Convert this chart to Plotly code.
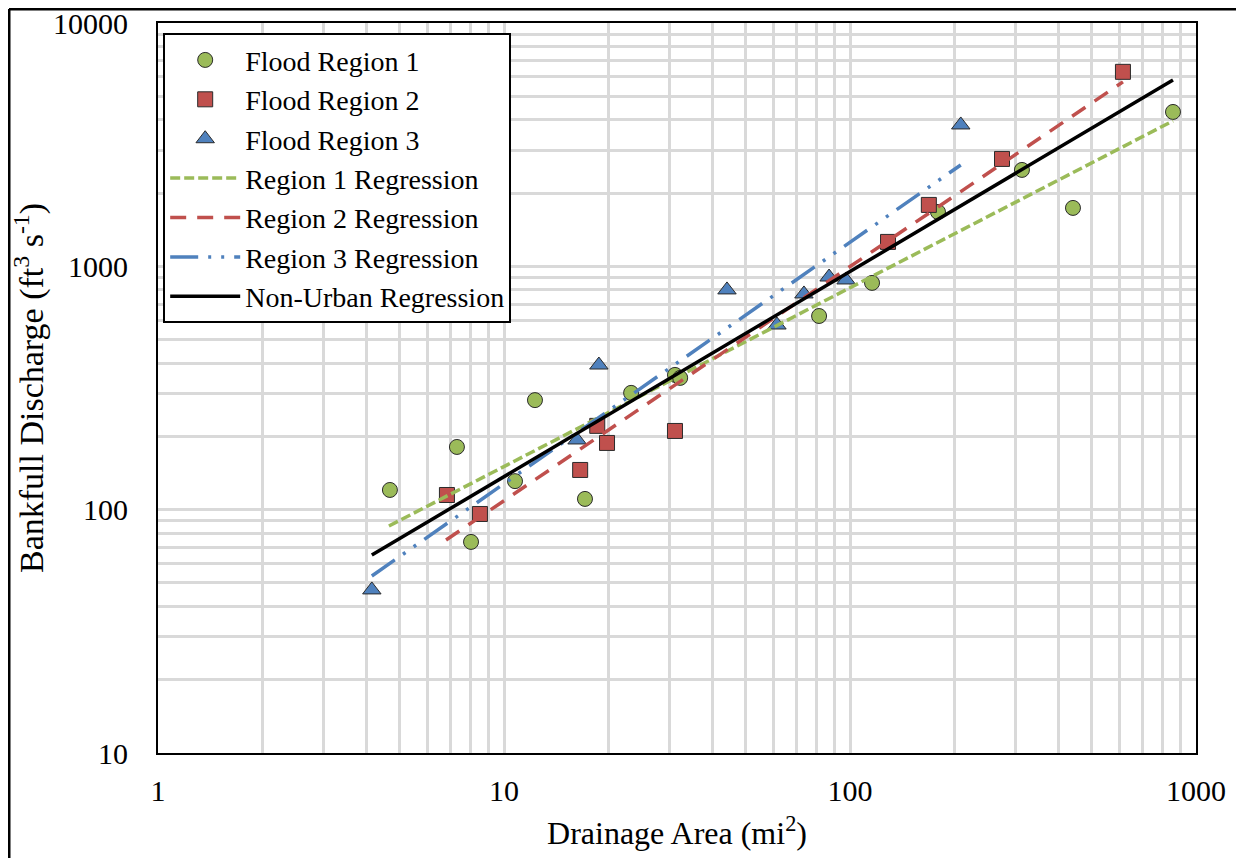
import plotly.graph_objects as go

# ---------------- data ----------------
r1_area = [4.68, 7.31, 8.03, 10.76, 12.29, 17.14, 23.3, 31.2, 32.3, 81.4, 115.8, 179.6, 314, 441, 858]
r1_q = [120.5, 181, 73.7, 131, 282, 110.7, 302, 358, 348, 625, 855, 1673, 2490, 1738, 4310]

r2_area = [6.84, 8.52, 16.6, 18.6, 19.85, 31.2, 128.8, 169, 275, 615]
r2_q = [114.9, 96, 145.6, 221, 188, 210.6, 1260, 1788, 2763, 6300]

r3_area = [4.15, 16.26, 18.8, 44.1, 61.5, 73.6, 87, 97.4, 209]
r3_q = [46.8, 193.4, 393, 800, 574, 770, 904, 879, 3811]

reg1_area = [4.65, 858]
reg1_q = [85.7, 3960]
reg2_area = [6.80, 615]
reg2_q = [75.1, 5730]
reg3_area = [4.15, 209]
reg3_q = [53.4, 2610]
regnu_area = [4.15, 858]
regnu_q = [65.1, 5834]

x_tickvals = [1, 10, 100, 1000]
x_ticktext = ["1", "10", "100", "1000"]
y_tickvals = [10, 100, 1000, 10000]
y_ticktext = ["10", "100", "1000", "10000"]

# ---------------- styles ----------------
GREEN = "#9BBB59"
RED = "#C0504D"
BLUE = "#4F81BD"
GRID = "#D9D9D9"
FONT = "Liberation Serif, Times New Roman, serif"

fig = go.Figure()

fig.add_trace(go.Scatter(x=r1_area, y=r1_q, mode="markers", name="Flood Region 1",
                         marker=dict(symbol="circle", size=15, color=GREEN,
                                     line=dict(color="#2b2b2b", width=1))))
fig.add_trace(go.Scatter(x=r2_area, y=r2_q, mode="markers", name="Flood Region 2",
                         marker=dict(symbol="square", size=15, color=RED,
                                     line=dict(color="#2b2b2b", width=1))))
fig.add_trace(go.Scatter(x=r3_area, y=r3_q, mode="markers", name="Flood Region 3",
                         marker=dict(symbol="triangle-up", size=16, color=BLUE,
                                     line=dict(color="#2b2b2b", width=1))))

fig.add_trace(go.Scatter(x=reg1_area, y=reg1_q, mode="lines", name="Region 1 Regression",
                         line=dict(color=GREEN, width=3.5, dash="10px,4px")))
fig.add_trace(go.Scatter(x=reg2_area, y=reg2_q, mode="lines", name="Region 2 Regression",
                         line=dict(color=RED, width=3.5, dash="16px,11px")))
fig.add_trace(go.Scatter(x=reg3_area, y=reg3_q, mode="lines", name="Region 3 Regression",
                         line=dict(color=BLUE, width=3.5, dash="28px,10px,3px,10px,3px,10px")))
fig.add_trace(go.Scatter(x=regnu_area, y=regnu_q, mode="lines", name="Non-Urban Regression",
                         line=dict(color="black", width=3.5)))

minor_x = [m * 10 ** e for e in range(0, 3) for m in range(2, 10)]
minor_y = [m * 10 ** e for e in range(1, 4) for m in range(2, 10)]

# the page body adds an ~8px offset; the figure is sized to compensate
W, H = 1236, 850
ML, MR, MT, MB = 150, 48, 15, 105

fig.update_layout(
    width=W, height=H,
    margin=dict(l=ML, r=MR, t=MT, b=MB, autoexpand=False),
    paper_bgcolor="white", plot_bgcolor="white",
    font=dict(family=FONT, size=30, color="black"),
    showlegend=True,
    legend=dict(x=0.005, y=0.986, xanchor="left", yanchor="top",
                bgcolor="white", bordercolor="black", borderwidth=2,
                font=dict(family=FONT, size=28, color="black"),
                itemwidth=70, tracegroupgap=0),
    xaxis=dict(type="log", range=[0, 3], automargin=False,
               tickmode="array", tickvals=x_tickvals, ticktext=x_ticktext,
               showgrid=True, gridcolor=GRID, gridwidth=2.5,
               minor=dict(tickmode="array", tickvals=minor_x, showgrid=True,
                          gridcolor=GRID, gridwidth=2.5, ticks=""),
               showline=True, linecolor="black", linewidth=2, mirror=True,
               ticks="", ticklabelstandoff=10, ticklabeloverflow="allow",
               tickfont=dict(family=FONT, size=30),
               title=dict(text="Drainage Area (mi<sup>2</sup>)", standoff=16,
                          font=dict(family=FONT, size=32)),
               zeroline=False),
    yaxis=dict(type="log", range=[1, 4], automargin=False,
               tickmode="array", tickvals=y_tickvals, ticktext=y_ticktext,
               showgrid=True, gridcolor=GRID, gridwidth=2.5,
               minor=dict(tickmode="array", tickvals=minor_y, showgrid=True,
                          gridcolor=GRID, gridwidth=2.5, ticks=""),
               showline=True, linecolor="black", linewidth=2, mirror=True,
               ticks="", ticklabelstandoff=22, ticklabeloverflow="allow",
               tickfont=dict(family=FONT, size=30),
               title=dict(text="Bankfull Discharge (ft<sup>3</sup> s<sup>-1</sup>)", standoff=8,
                          font=dict(family=FONT, size=34)),
               zeroline=False),
)

# outer frame of the figure
pw = W - ML - MR
ph = H - MT - MB
left = (1 - ML) / pw
right = (W - 3 - ML) / pw
top = (ph + MT - 1) / ph
bottom = (ph + MT - H - 10) / ph
fig.add_shape(type="line", xref="paper", yref="paper", x0=left, x1=left, y0=bottom, y1=top,
              line=dict(color="black", width=3))
fig.add_shape(type="line", xref="paper", yref="paper", x0=left, x1=right, y0=top, y1=top,
              line=dict(color="black", width=3))
fig.add_shape(type="line", xref="paper", yref="paper", x0=right, x1=right, y0=bottom, y1=top,
              line=dict(color="#808080", width=1))

fig.write_html("out.html")
